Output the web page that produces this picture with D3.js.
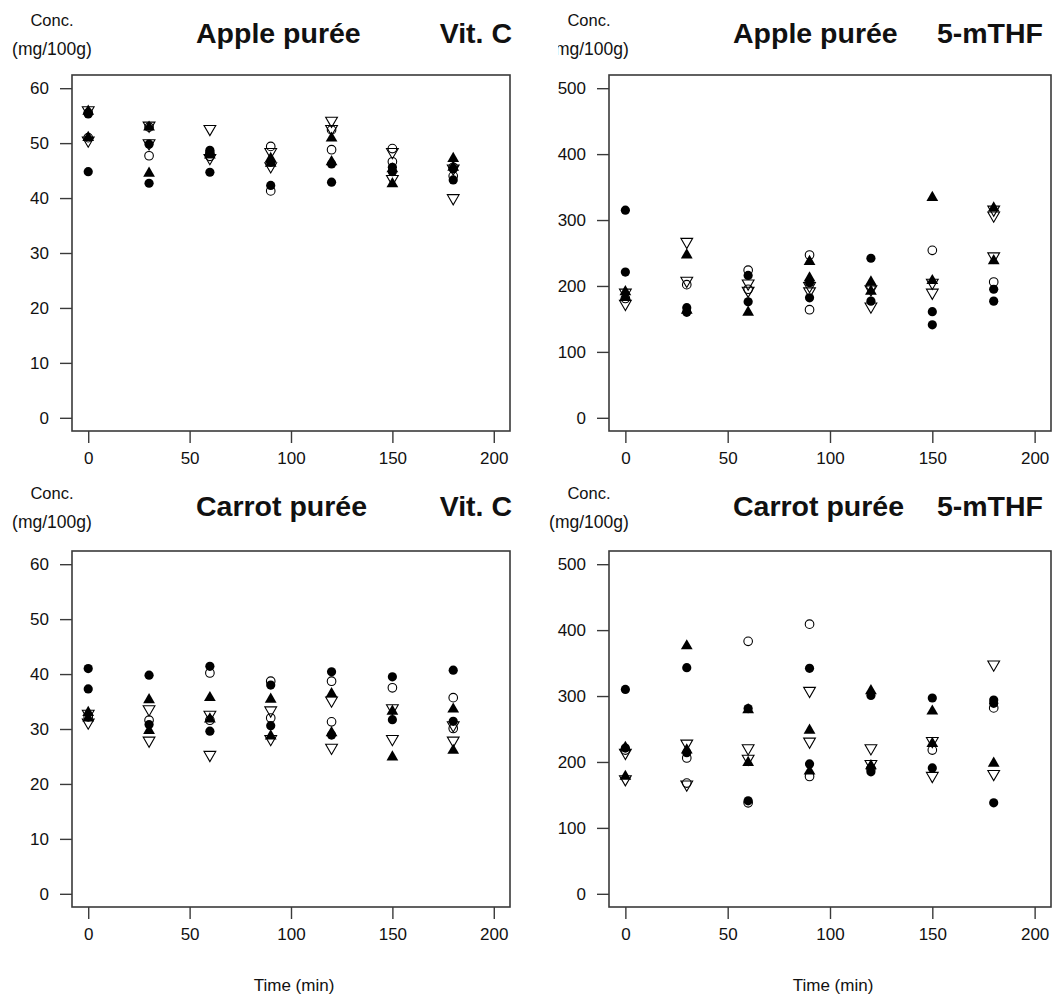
<!DOCTYPE html>
<html>
<head>
<meta charset="utf-8">
<script src="https://cdn.jsdelivr.net/npm/d3@7"></script>
<style>
  html, body { margin: 0; padding: 0; background: #fff; }
  svg { display: block; }
  text { font-family: "Liberation Sans", Arial, sans-serif; fill: #111; }
</style>
</head>
<body>
<svg id="chart" width="1056" height="1001"></svg>
<script>
// ---------------- DATA ----------------
const times = [0, 30, 60, 90, 120, 150, 180];
const xTicks = [0, 50, 100, 150, 200];
const vitCTicks = [0, 10, 20, 30, 40, 50, 60];
const mthfTicks = [0, 100, 200, 300, 400, 500];

// Apple purée, Vit. C  (values per time point)
const appleVitC_filledCircle = [[55.3, 44.8], [49.8, 42.7], [48.7, 44.7], [46.5, 42.3], [46.2, 42.9], [45.6, 44.8], [45.3, 43.3]];
const appleVitC_openCircle   = [[55.5, 51], [47.7, 52.9], [48.2, 47.6], [49.4, 41.3], [48.8, 52.4], [49, 46.6], [45.6, 44]];
const appleVitC_filledTri    = [[55.8, 51], [52.9, 44.5], [48.3, 47.8], [47.2, 46.3], [50.9, 46.6], [45.3, 42.6], [47.2, 45.6]];
const appleVitC_openDownTri  = [[56, 50.5], [53.2, 50], [52.6, 47.3], [48.4, 45.8], [54.1, 52.6], [48.4, 43.5], [45.4, 40]];

// Apple purée, 5-mTHF
const appleMTHF_filledCircle = [[315, 221], [167, 160], [216, 176], [205, 182], [242, 177], [161, 141], [195, 177]];
const appleMTHF_openCircle   = [[181], [202], [224, 195], [247, 164], [200], [254], [206]];
const appleMTHF_filledTri    = [[191, 183], [247, 163], [160], [237, 212], [206, 192], [334, 208], [318, 238]];
const appleMTHF_openDownTri  = [[190, 173], [267, 208], [204, 193], [200, 192], [195, 169], [205, 190], [316, 307, 245]];

// Carrot purée, Vit. C
const carrotVitC_filledCircle = [[41, 37.3], [39.8, 30.8], [41.4, 29.6], [38, 30.6], [40.4, 28.9], [39.5, 31.7], [40.7, 31.4]];
const carrotVitC_openCircle   = [[32.2], [31.6], [40.2, 31.6], [38.7, 32], [38.7, 31.3], [37.5], [35.7, 30.1]];
const carrotVitC_filledTri    = [[33, 32], [35.3, 29.7], [35.7, 31.8], [35.4, 28.7], [36.4, 29.3], [33.2, 24.9], [33.6, 26.1]];
const carrotVitC_openDownTri  = [[32.8, 31.2], [33.6, 27.9], [32.6, 25.3], [33.4, 28.2], [35.2, 26.6], [33.8, 28.2], [30.7, 27.9]];

// Carrot purée, 5-mTHF
const carrotMTHF_filledCircle = [[310, 221], [343, 214], [281, 141], [342, 197], [301, 185], [297, 191], [294, 289, 138]];
const carrotMTHF_openCircle   = [[218], [206, 168], [383, 138], [409, 178], [190], [218], [282]];
const carrotMTHF_filledTri    = [[222, 178], [376, 218], [279, 199], [248, 186], [308, 194], [277, 228], [198]];
const carrotMTHF_openDownTri  = [[214, 174], [228, 166], [221, 205], [308, 231], [221, 197], [232, 179], [348, 182]];

// ---------------- LAYOUT ----------------
const svg = d3.select("#chart");
const cols = [{x0: 72, x1: 510}, {x0: 609, x1: 1051}];
const rows = [{y0: 75, y1: 431, lab: 0}, {y0: 551, y1: 907, lab: -3}];

function flatten(arr) {
  return arr.flatMap((vals, i) => vals.map(v => ({t: times[i], v})));
}

const panels = [
  {col: 0, row: 0, title: "Apple purée", sub: "Vit. C", max: 60, ticks: vitCTicks,
   fc: appleVitC_filledCircle, oc: appleVitC_openCircle, ft: appleVitC_filledTri, dt: appleVitC_openDownTri},
  {col: 1, row: 0, title: "Apple purée", sub: "5-mTHF", max: 500, ticks: mthfTicks, clipUnit: true,
   fc: appleMTHF_filledCircle, oc: appleMTHF_openCircle, ft: appleMTHF_filledTri, dt: appleMTHF_openDownTri},
  {col: 0, row: 1, title: "Carrot purée", sub: "Vit. C", max: 60, ticks: vitCTicks,
   fc: carrotVitC_filledCircle, oc: carrotVitC_openCircle, ft: carrotVitC_filledTri, dt: carrotVitC_openDownTri},
  {col: 1, row: 1, title: "Carrot purée", sub: "5-mTHF", max: 500, ticks: mthfTicks,
   fc: carrotMTHF_filledCircle, oc: carrotMTHF_openCircle, ft: carrotMTHF_filledTri, dt: carrotMTHF_openDownTri}
];

const lineColor = "#3a3a3a";
const tickLen = 12;

svg.append("defs").append("clipPath").attr("id", "unitclip")
  .append("rect").attr("x", 558).attr("y", 0).attr("width", 200).attr("height", 120);

panels.forEach(p => {
  const c = cols[p.col], r = rows[p.row];
  const ext = p.max * 0.04;
  const x = d3.scaleLinear().domain([-8, 208]).range([c.x0, c.x1]);
  const y = d3.scaleLinear().domain([-ext, p.max + ext]).range([r.y1, r.y0]);
  const g = svg.append("g");

  // x axis
  const xa = g.append("g").attr("transform", `translate(0,${r.y1})`)
    .call(d3.axisBottom(x).tickValues(xTicks).tickSize(tickLen).tickPadding(9).tickFormat(d3.format("d")));
  xa.select(".domain").remove();
  xa.selectAll("line").attr("stroke", lineColor).attr("stroke-width", 1.4);
  xa.selectAll("text").attr("font-size", 17).attr("fill", "#111")
    .attr("font-family", '"Liberation Sans", Arial, sans-serif');

  // y axis
  const ya = g.append("g").attr("transform", `translate(${c.x0},0)`)
    .call(d3.axisLeft(y).tickValues(p.ticks).tickSize(tickLen).tickPadding(11).tickFormat(d3.format("d")));
  ya.select(".domain").remove();
  ya.selectAll("line").attr("stroke", lineColor).attr("stroke-width", 1.4);
  ya.selectAll("text").attr("font-size", 17).attr("fill", "#111")
    .attr("font-family", '"Liberation Sans", Arial, sans-serif');

  // box
  g.append("rect").attr("x", c.x0).attr("y", r.y0)
    .attr("width", c.x1 - c.x0).attr("height", r.y1 - r.y0)
    .attr("fill", "none").attr("stroke", lineColor).attr("stroke-width", 1.6);

  // labels
  const cx = c.x0 - 20;
  const ly = r.y0 + r.lab;
  g.append("text").attr("x", cx).attr("y", ly - 49).attr("text-anchor", "middle")
    .attr("font-size", 16.5).text("Conc.");
  const unit = g.append("text").attr("x", cx).attr("y", ly - 20).attr("text-anchor", "middle")
    .attr("font-size", 17.5).text("(mg/100g)");
  if (p.clipUnit) unit.attr("clip-path", "url(#unitclip)");
  g.append("text").attr("x", c.x0 + 124).attr("y", ly - 32)
    .attr("font-size", 28.5).attr("font-weight", "bold").attr("fill", "#000").text(p.title);
  g.append("text").attr("x", p.col === 0 ? c.x1 + 2 : c.x1 - 8).attr("y", ly - 32)
    .attr("text-anchor", "end")
    .attr("font-size", 28.5).attr("font-weight", "bold").attr("fill", "#000").text(p.sub);
  if (p.row === 1) {
    g.append("text").attr("x", (c.x0 + c.x1) / 2 + 3).attr("y", 991).attr("text-anchor", "middle")
      .attr("font-size", 17).text("Time (min)");
  }

  // points
  const tri = d3.symbol().type(d3.symbolTriangle).size(60)();
  g.selectAll(".oc").data(flatten(p.oc)).join("circle")
    .attr("cx", d => x(d.t)).attr("cy", d => y(d.v)).attr("r", 4.3)
    .attr("fill", "none").attr("stroke", "#000").attr("stroke-width", 1.1);
  g.selectAll(".dt").data(flatten(p.dt)).join("path")
    .attr("d", tri)
    .attr("transform", d => `translate(${x(d.t)},${y(d.v)}) rotate(180)`)
    .attr("fill", "none").attr("stroke", "#000").attr("stroke-width", 1.1);
  g.selectAll(".ft").data(flatten(p.ft)).join("path")
    .attr("d", tri)
    .attr("transform", d => `translate(${x(d.t)},${y(d.v)})`)
    .attr("fill", "#000");
  g.selectAll(".fc").data(flatten(p.fc)).join("circle")
    .attr("cx", d => x(d.t)).attr("cy", d => y(d.v)).attr("r", 4.6)
    .attr("fill", "#000");
});
</script>
</body>
</html>
